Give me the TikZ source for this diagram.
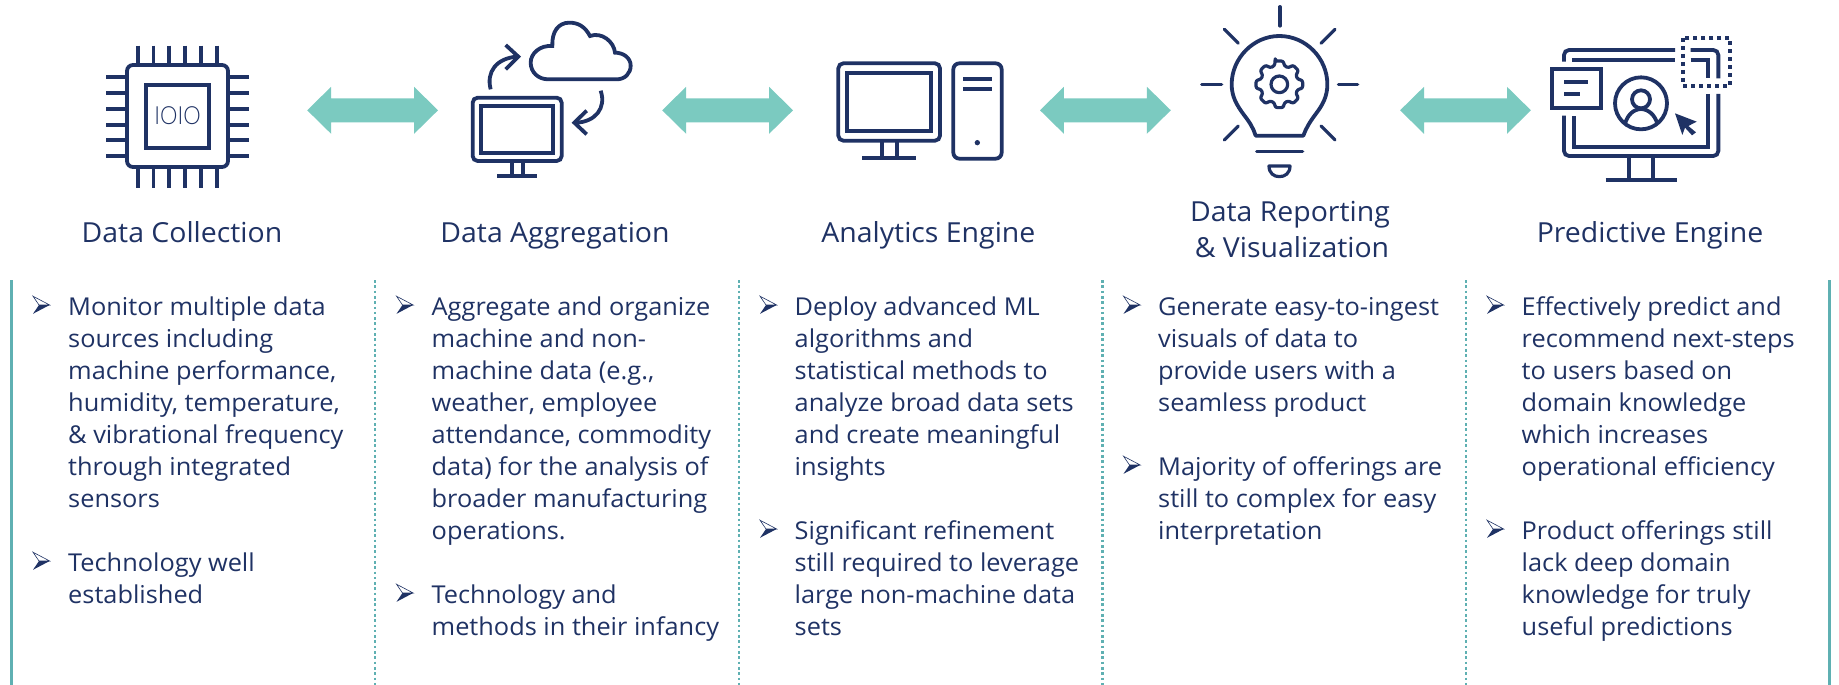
\documentclass[tikz,border=0pt]{standalone}
\usepackage{fontspec}
\setmainfont{Open Sans}[FakeStretch=1.03]
\newfontfamily\thinfont{Lato Light}[FakeStretch=0.88]
\definecolor{navy}{HTML}{1F3264}
\definecolor{linkteal}{HTML}{7BCAC0}
\definecolor{ruleteal}{HTML}{5FB0B2}
\newcommand{\itemtext}[5]{%
  \node[bodytext] (#1) at (#2,#3-22) {\rule{0pt}{22pt}#5};
  \pic at (#4,#3-10) {bulletmark};
}
\tikzset{
  x=1pt,y=-1pt,
  icon/.style={draw=navy,line width=3.8pt,line join=miter},
  thin icon/.style={draw=navy,line width=3.2pt,line cap=round,line join=round},
  titletext/.style={text=navy,font=\fontsize{27.6}{36}\selectfont,align=center,inner sep=0pt,anchor=base},
  bodytext/.style={text=navy,font=\fontsize{24.6}{32}\selectfont,align=left,inner sep=0pt,anchor=north west},
  solidrule/.style={draw=ruleteal,line width=3pt},
  dotrule/.style={draw=ruleteal,line width=2.6pt,dash pattern=on 2.6pt off 2.7pt},
  bulletmark/.pic={
    \draw[navy,line width=.6pt,line join=miter,fill=white] (0,-8.8)--(16.7,0)--(6,0)--cycle;
    \fill[navy] (0,8.8)--(16.7,0)--(6,0)--cycle;
  },
  linkarrow/.pic={
    \fill[linkteal] (-65.4,0)--(-41.5,-23.5)--(-41.5,-12)--(41.5,-12)--(41.5,-23.5)--(65.4,0)--(41.5,23.5)--(41.5,12)--(-41.5,12)--(-41.5,23.5)--cycle;
  },
}
\begin{document}
\begin{tikzpicture}
\useasboundingbox (0,0) rectangle (1839,685);
% link arrows
\pic at (372.6,110.3) {linkarrow};
\pic at (727.6,110.3) {linkarrow};
\pic at (1105.4,110.3) {linkarrow};
\pic at (1465.5,110.3) {linkarrow};
% chip
\draw[icon,rounded corners=6pt] (127,65) rectangle (228,167);
\draw[icon,line width=4pt] (146,85) rectangle (209,148);
\foreach \p in {137.7,153.5,169.3,185,201,216.7}{
  \draw[icon] (\p,45.7)--(\p,63);
  \draw[icon] (\p,169)--(\p,187.7);
}
\foreach \p in {77.3,93,108.7,124.7,140.3,156}{
  \draw[icon] (106,\p)--(125,\p);
  \draw[icon] (230,\p)--(248.7,\p);
}
\node[text=navy,inner sep=0pt,font={\thinfont\fontsize{25}{25}\selectfont}] (chiptext) at (177.5,116) {IOIO};
% aggregation
\begin{scope}[shift={(460,10)},scale=1/3]
\draw[icon] (265,208)--(470,208) .. controls (495,208) and (512,190) .. (512,167) .. controls (512,145) and (492,128) .. (465,128) .. controls (462,95) and (425,65) .. (390,78) .. controls (375,50) and (355,38) .. (328,38) .. controls (295,38) and (275,65) .. (277,108) .. controls (240,105) and (212,130) .. (212,158) .. controls (212,187) and (235,208) .. (265,208)--cycle;
\draw[icon] (92,238) .. controls (78,185) and (110,145) .. (170,140);
\draw[icon] (137,105)--(175,140)--(137,178);
\draw[icon] (422,242) .. controls (440,295) and (405,335) .. (350,338);
\draw[icon] (380,302)--(343,338)--(380,373);
\draw[icon,rounded corners=5pt] (38,263) rectangle (305,453);
\draw[icon] (62,287) rectangle (280,428);
\draw[icon] (155,453)--(155,497);
\draw[icon] (190,453)--(190,497);
\draw[icon] (112,497)--(230,497);
\end{scope}
% computer and tower
\begin{scope}[shift={(690,0)},scale=1/3]
\draw[icon,rounded corners=5pt] (445,190) rectangle (750,422);
\draw[icon] (472,218) rectangle (722,393);
\draw[icon] (576,424)--(576,473);
\draw[icon] (620,424)--(620,473);
\draw[icon] (517,473)--(679,473);
\draw[icon,rounded corners=6pt] (790,190) rectangle (935,476);
\draw[icon] (819,236)--(905,236);
\draw[icon] (819,268)--(905,268);
\fill[navy] (862,428) circle[radius=8];
\end{scope}
% bulb
\begin{scope}[shift={(1190,0)},scale=1/3]
\draw[icon,line join=round] (197,407)--(340,407) .. controls (348,385) and (358,368) .. (375,345) .. controls (398,315) and (412,290) .. (412,253) .. controls (412,175) and (348,108) .. (268,108) .. controls (190,108) and (125,175) .. (125,253) .. controls (125,290) and (140,315) .. (162,345) .. controls (180,368) and (190,385) .. (197,407)--cycle;
\draw[thin icon] (270,20)--(270,78);
\draw[thin icon] (35,253)--(95,253);
\draw[thin icon] (445,253)--(503,253);
\draw[thin icon] (103,88)--(145,130);
\draw[thin icon] (435,88)--(393,130);
\draw[thin icon] (145,378)--(103,420);
\draw[thin icon] (393,378)--(435,420);
\draw[thin icon] (200,455)--(338,455);
\draw[thin icon] (237,498)--(300,498) .. controls (300,520) and (285,530) .. (268,530) .. controls (252,530) and (237,520) .. (237,498)--cycle;
\draw[thin icon] (268,253) circle[radius=25];
\begin{scope}[shift={(268,253)}]
\draw[thin icon,rounded corners=2.2pt] (-100:71)
  \foreach \a in {-90,-45,...,225}{ -- ({\a-10}:71) -- ({\a+10}:71) -- ({\a+15}:57) -- ({\a+30}:57)} -- cycle;
\end{scope}
\end{scope}
% predictive
\begin{scope}[shift={(1540,20)},scale=1/3]
\draw[icon,rounded corners=5pt] (72,125)--(72,90)--(405,90);
\draw[icon,rounded corners=5pt] (452,90)--(535,90)--(535,175);
\draw[icon,rounded corners=5pt] (535,222)--(535,408)--(72,408)--(72,287);
\draw[icon] (97,119)--(405,119);
\draw[icon] (452,119)--(505,119)--(505,175);
\draw[icon] (505,222)--(505,380)--(102,380)--(102,287);
\draw[icon] (268,408)--(268,481);
\draw[icon] (338,408)--(338,481);
\draw[icon] (197,481)--(411,481);
\draw[icon] (35,148) rectangle (182,264);
\draw[icon] (72,185)--(143,185);
\draw[icon] (72,221)--(120,221);
\draw[icon] (303,250) circle[radius=78];
\draw[icon] (303,238) circle[radius=27];
\draw[icon] (255,312) .. controls (262,285) and (280,268) .. (303,267) .. controls (326,268) and (345,285) .. (352,312);
\fill[navy] (405,280)--(470,305)--(445,318)--(468,337)--(456,346)--(435,323)--(427,345)--cycle;
\draw[navy,line width=4pt,dash pattern=on 4pt off 4pt] (428,54) rectangle (571,197);
\end{scope}
% titles
\node[titletext] (t1) at (182,242) {Data Collection};
\node[titletext] (t2) at (555,242) {Data Aggregation};
\node[titletext] (t3) at (928.4,242) {Analytics Engine};
\node[titletext,anchor=north] (t4) at (1290,198.5) {\rule{0pt}{22.7pt}Data Reporting\\\hspace{4pt}\& Visualization};
\node[titletext] (t5) at (1650,242) {Predictive Engine};
% rules
\draw[solidrule] (11.7,280)--(11.7,685);
\draw[solidrule] (1829.6,280)--(1829.6,685);
\foreach \p in {375,739,1102.5,1466}{ \draw[dotrule] (\p,280)--(\p,685); }
% column 1
\itemtext{a1}{68}{315}{33}{Monitor multiple data\\sources including\\machine performance,\\humidity, temperature,\\\& vibrational frequency\\through integrated\\sensors}
\itemtext{a2}{68}{571}{33}{Technology well\\established}
% column 2
\itemtext{b1}{431.5}{315}{396.5}{Aggregate and organize\\machine and non-\\machine data (e.g.,\\weather, employee\\attendance, commodity\\data) for the analysis of\\broader manufacturing\\operations.}
\itemtext{b2}{431.5}{603}{396.5}{Technology and\\methods in their infancy}
% column 3
\itemtext{c1}{794.5}{315}{760}{Deploy advanced ML\\algorithms and\\statistical methods to\\analyze broad data sets\\and create meaningful\\insights}
\itemtext{c2}{794.5}{539}{760}{Significant refinement\\still required to leverage\\large non-machine data\\sets}
% column 4
\itemtext{d1}{1158}{315}{1123.5}{Generate easy-to-ingest\\visuals of data to\\provide users with a\\seamless product}
\itemtext{d2}{1158}{475}{1123.5}{Majority of offerings are\\still to complex for easy\\interpretation}
% column 5
\itemtext{e1}{1521.5}{315}{1487}{Effectively predict and\\recommend next-steps\\to users based on\\domain knowledge\\which increases\\operational efficiency}
\itemtext{e2}{1521.5}{539}{1487}{Product offerings still\\lack deep domain\\knowledge for truly\\useful predictions}
\end{tikzpicture}
\end{document}
